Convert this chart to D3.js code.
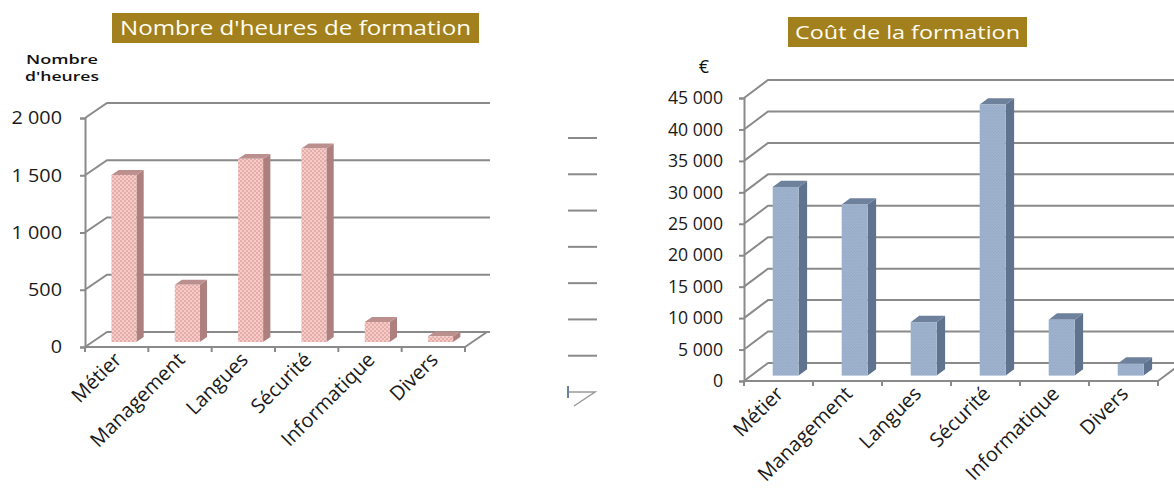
<!DOCTYPE html>
<html>
<head>
<meta charset="utf-8">
<script src="https://cdn.jsdelivr.net/npm/d3@7"></script>
<style>
  html, body { margin: 0; padding: 0; background: #fff; }
  svg { display: block; }
  text { font-family: "Open Sans", "DejaVu Sans", sans-serif; }
</style>
</head>
<body>
<svg id="chart" width="1174" height="499"></svg>
<script>
// Training figures by category
const categories = ["Métier", "Management", "Langues", "Sécurité", "Informatique", "Divers"];
const hours = [1460, 500, 1600, 1690, 175, 50];
const costs = [30000, 27200, 8500, 43100, 8900, 1900];
const hoursTicks = [0, 500, 1000, 1500, 2000];
const costTicks = [0, 5000, 10000, 15000, 20000, 25000, 30000, 35000, 40000, 45000];
const hoursTitle = "Nombre d'heures de formation";
const costTitle = "Coût de la formation";
const hoursUnit = ["Nombre", "d'heures"];
const costUnit = "€";
// Gridline stubs of the neighbouring panel (levels only)
const stubLevels = [0, 1, 2, 3, 4, 5, 6, 7];

const fr = d3.formatLocale({ decimal: ",", thousands: " ", grouping: [3], currency: ["", " €"] });
const fmt = fr.format(",d");

const svg = d3.select("#chart");
const defs = svg.append("defs");

// dotted fills for the columns
function dotPattern(id, bg, dot, size, r) {
  const p = defs.append("pattern").attr("id", id).attr("patternUnits", "userSpaceOnUse")
    .attr("width", size).attr("height", size);
  p.append("rect").attr("width", size).attr("height", size).attr("fill", bg);
  p.append("circle").attr("cx", size * 0.25).attr("cy", size * 0.25).attr("r", r).attr("fill", dot);
  p.append("circle").attr("cx", size * 0.75).attr("cy", size * 0.75).attr("r", r).attr("fill", dot);
}
dotPattern("pinkDots", "#f5cbc7", "#d8918e", 4, 0.85);
dotPattern("blueDots", "#9fb3ce", "#8ea3c1", 3, 0.6);

const gridColor = "#8a8a8a";

function drawChart(cfg) {
  const g = svg.append("g");
  const x = d3.scaleBand().domain(categories).range([cfg.x0, cfg.x1]).paddingInner(0).paddingOuter(0);
  const h = d3.scaleLinear().domain([0, cfg.max]).range([0, cfg.y0 - cfg.yTop]);
  const yFront = d3.scaleLinear().domain([0, cfg.max]).range([cfg.y0, cfg.yTop]);
  const dx = cfg.dx, dy = cfg.dy;

  // back wall gridlines with their slanted side-wall segment
  cfg.ticks.forEach(t => {
    if (t === 0) return;
    const yf = yFront(t);
    g.append("path")
      .attr("d", `M${cfg.x0},${yf}L${cfg.x0 + dx},${yf + dy}L${cfg.gridRight},${yf + dy}`)
      .attr("fill", "none").attr("stroke", gridColor).attr("stroke-width", 2);
  });

  // floor outline
  const yb = cfg.y0;
  g.append("path")
    .attr("d", `M${cfg.gridRight},${yb + dy}L${cfg.x0 + dx},${yb + dy}L${cfg.x0},${yb}L${cfg.x1},${yb}L${cfg.x1 + dx * cfg.floorExt},${yb + dy * cfg.floorExt}`)
    .attr("fill", "none").attr("stroke", gridColor).attr("stroke-width", 2).attr("stroke-linejoin", "round");

  // columns
  const zf = cfg.zFront, zb = cfg.zBack;
  const w = x.bandwidth() * cfg.barFrac;
  cfg.values.forEach((v, i) => {
    const cx = x(categories[i]) + x.bandwidth() / 2;
    const xl = cx - w / 2, xr = cx + w / 2;
    const ytF = yb - h(v) + zf * dy, ybF = yb + zf * dy;
    const ytB = yb - h(v) + zb * dy, ybB = yb + zb * dy;
    const bar = g.append("g");
    bar.append("polygon")
      .attr("points", [[xr + zf * dx, ybF], [xr + zb * dx, ybB], [xr + zb * dx, ytB], [xr + zf * dx, ytF]].join(" "))
      .attr("fill", cfg.side);
    bar.append("polygon")
      .attr("points", [[xl + zf * dx, ytF], [xr + zf * dx, ytF], [xr + zb * dx, ytB], [xl + zb * dx, ytB]].join(" "))
      .attr("fill", cfg.top);
    bar.append("rect")
      .attr("x", xl + zf * dx).attr("y", ytF).attr("width", w).attr("height", h(v))
      .attr("fill", cfg.face);
  });

  // value axis on the front edge
  const axis = d3.axisLeft(yFront).tickValues(cfg.ticks).tickSize(5).tickPadding(cfg.tickPad).tickFormat(fmt);
  const ag = g.append("g").attr("transform", `translate(${cfg.x0},0)`).call(axis);
  ag.select(".domain").attr("stroke", gridColor).attr("stroke-width", 2);
  ag.selectAll(".tick line").attr("stroke", gridColor).attr("stroke-width", 2);
  ag.selectAll(".tick text")
    .attr("font-size", cfg.tickFont).attr("fill", "#1a1a1a")
    .attr("font-family", "'Open Sans', sans-serif")
    .each(function () {
      const n = this.getComputedTextLength();
      d3.select(this).attr("textLength", n * cfg.tickStretch).attr("lengthAdjust", "spacingAndGlyphs");
    });

  // category boundary ticks
  const bounds = d3.range(categories.length + 1).map(i => cfg.x0 + i * x.step());
  g.selectAll(null).data(bounds).enter().append("line")
    .attr("x1", d => d).attr("x2", d => d).attr("y1", yb).attr("y2", yb + 5)
    .attr("stroke", gridColor).attr("stroke-width", 2);

  // slanted category labels
  g.selectAll(null).data(categories).enter().append("text")
    .attr("transform", d => `translate(${x(d) + x.bandwidth() / 2 + cfg.labDx},${yb + cfg.labDy}) rotate(-45)`)
    .attr("text-anchor", "end")
    .attr("font-size", cfg.catFont).attr("fill", "#1a1a1a")
    .text(d => d);

  // title banner
  const tb = cfg.title;
  g.append("rect").attr("x", tb.x).attr("y", tb.y).attr("width", tb.w).attr("height", tb.h).attr("fill", "#a2801d");
  g.append("text")
    .attr("x", tb.x + tb.w / 2).attr("y", tb.y + tb.h / 2 + tb.size * 0.36)
    .attr("text-anchor", "middle").attr("fill", "#fffdf2").attr("font-size", tb.size)
    .attr("textLength", tb.w - 2 * tb.pad).attr("lengthAdjust", "spacingAndGlyphs")
    .text(tb.text);
  return g;
}

drawChart({
  values: hours, ticks: hoursTicks, max: 2000,
  x0: 85, x1: 465, y0: 347, yTop: 118, dx: 22, dy: -15,
  gridRight: 490, floorExt: 1,
  zFront: 0.33, zBack: 0.66, barFrac: 0.395,
  face: "url(#pinkDots)", side: "#ad807f", top: "#bb8f8e",
  tickPad: 18, tickFont: 18, tickStretch: 1.1,
  catFont: 20, labDx: 6, labDy: 14,
  title: { x: 112, y: 13, w: 367, h: 30, size: 20, pad: 8, text: hoursTitle }
});

drawChart({
  values: costs, ticks: costTicks, max: 45000,
  x0: 744, x1: 1158, y0: 381, yTop: 98, dx: 24, dy: -18,
  gridRight: 1174, floorExt: 1.2,
  zFront: 0.3, zBack: 0.65, barFrac: 0.377,
  face: "url(#blueDots)", side: "#5f738e", top: "#6d819c",
  tickPad: 16, tickFont: 18, tickStretch: 0.98,
  catFont: 20, labDx: 6, labDy: 14,
  title: { x: 788, y: 17, w: 239, h: 30, size: 19, pad: 7, text: costTitle }
});

// unit captions
svg.append("text").attr("x", 62).attr("y", 64).attr("text-anchor", "middle")
  .attr("font-size", 13).attr("font-weight", 600).attr("fill", "#111")
  .attr("textLength", 72).attr("lengthAdjust", "spacingAndGlyphs").text(hoursUnit[0]);
svg.append("text").attr("x", 62).attr("y", 81).attr("text-anchor", "middle")
  .attr("font-size", 13).attr("font-weight", 600).attr("fill", "#111")
  .attr("textLength", 74).attr("lengthAdjust", "spacingAndGlyphs").text(hoursUnit[1]);
svg.append("text").attr("x", 704).attr("y", 73).attr("text-anchor", "middle")
  .attr("font-size", 18).attr("fill", "#111").text(costUnit);

// gridline stubs of the neighbouring panel
const stubY = d3.scaleLinear().domain([0, 7]).range([138, 392]);
const stubs = svg.append("g");
stubs.selectAll(null).data(stubLevels.slice(0, 7)).enter().append("line")
  .attr("x1", 568).attr("x2", 597).attr("y1", d => stubY(d)).attr("y2", d => stubY(d))
  .attr("stroke", "#8a8a8a").attr("stroke-width", 2);
const lastY = stubY(stubLevels[7]);
stubs.append("path").attr("d", `M568,${lastY}L595,${lastY}L574,${lastY + 14}`)
  .attr("fill", "none").attr("stroke", "#9a9a9a").attr("stroke-width", 1.5);
stubs.append("line").attr("x1", 568).attr("x2", 568).attr("y1", lastY - 6).attr("y2", lastY + 6)
  .attr("stroke", "#6b7fa0").attr("stroke-width", 2);
</script>
</body>
</html>
